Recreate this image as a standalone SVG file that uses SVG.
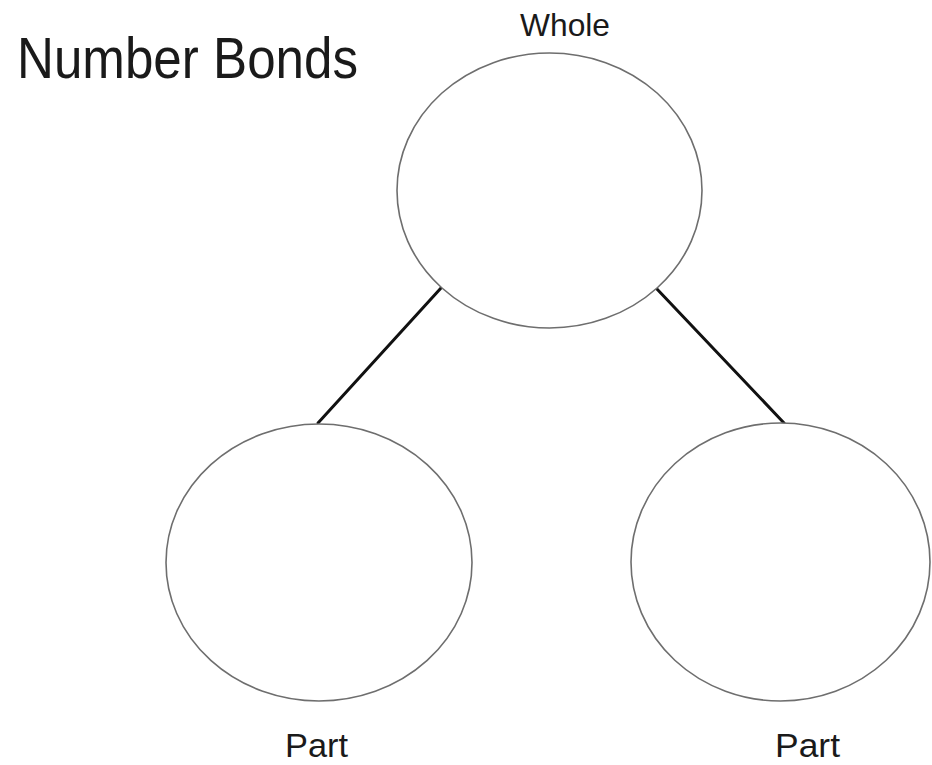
<svg xmlns="http://www.w3.org/2000/svg" width="932" height="765" viewBox="0 0 932 765">
<style>
.node{fill:#ffffff;stroke:#6e6e6e;stroke-width:1.6}
.edge{stroke:#111111;stroke-width:3;stroke-linecap:round}
.lbl{font-family:"Liberation Sans",Arial,sans-serif;fill:#1a1a1a}
</style>
<rect width="932" height="765" fill="#ffffff"/>
<text id="title" class="lbl" x="17" y="78" font-size="57" textLength="341" lengthAdjust="spacingAndGlyphs">Number Bonds</text>
<g id="connectors">
<line class="edge" x1="441" y1="288" x2="318" y2="423"/>
<line class="edge" x1="656" y1="288" x2="784" y2="423"/>
</g>
<g id="whole">
<ellipse class="node" cx="549.5" cy="190.5" rx="152.5" ry="137.5"/>
<text class="lbl" x="565" y="36" font-size="32" text-anchor="middle" textLength="90" lengthAdjust="spacingAndGlyphs">Whole</text>
</g>
<g id="part-left">
<ellipse class="node" cx="319" cy="562.5" rx="153" ry="138.5"/>
<text class="lbl" x="316.5" y="757" font-size="34" text-anchor="middle" textLength="63" lengthAdjust="spacingAndGlyphs">Part</text>
</g>
<g id="part-right">
<ellipse class="node" cx="780.5" cy="562" rx="149.5" ry="139"/>
<text class="lbl" x="807.5" y="757" font-size="34" text-anchor="middle" textLength="65" lengthAdjust="spacingAndGlyphs">Part</text>
</g>
</svg>
